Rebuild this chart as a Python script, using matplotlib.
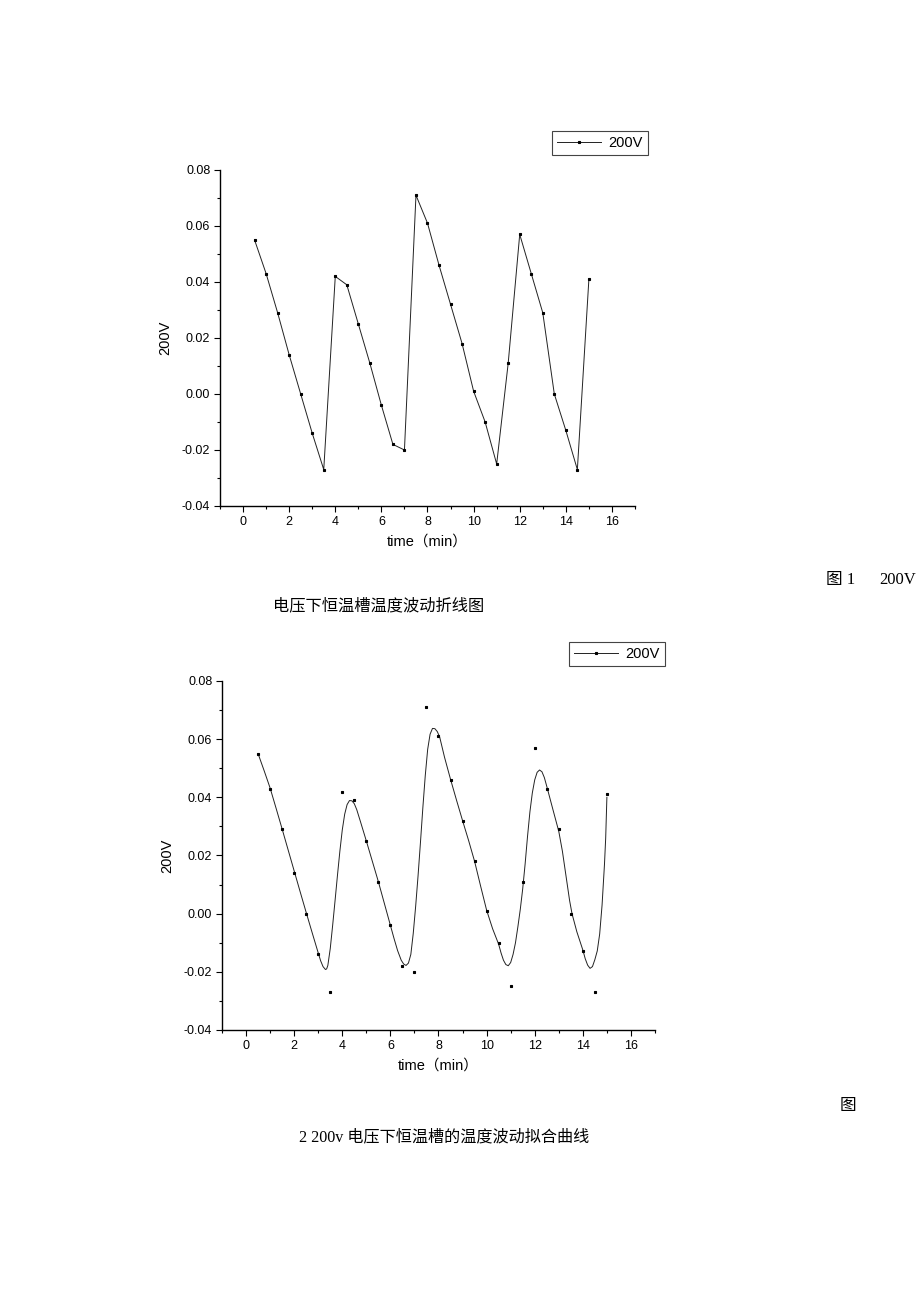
import matplotlib
matplotlib.use("Agg")
import matplotlib.pyplot as plt
from matplotlib.ticker import MultipleLocator, FormatStrFormatter
from matplotlib.lines import Line2D

# measured temperature fluctuation at 200 V
time_min = [0.5, 1.0, 1.5, 2.0, 2.5, 3.0, 3.5, 4.0, 4.5, 5.0,
            5.5, 6.0, 6.5, 7.0, 7.5, 8.0, 8.5, 9.0, 9.5, 10.0,
            10.5, 11.0, 11.5, 12.0, 12.5, 13.0, 13.5, 14.0, 14.5, 15.0]
v200 = [0.055, 0.043, 0.029, 0.014, 0.000, -0.014, -0.027, 0.042, 0.039, 0.025,
        0.011, -0.004, -0.018, -0.020, 0.071, 0.061, 0.046, 0.032, 0.018, 0.001,
        -0.010, -0.025, 0.011, 0.057, 0.043, 0.029, 0.000, -0.013, -0.027, 0.041]

# fitted curve
fit_x = [0.5, 0.75, 1.0, 1.25, 1.5, 1.75, 2.0, 2.25, 2.5, 2.75,
         3.0, 3.1, 3.2, 3.3, 3.35, 3.4, 3.5, 3.6, 3.7, 3.8,
         3.9, 4.0, 4.1, 4.2, 4.3, 4.4, 4.5, 4.6, 4.75, 5.0,
         5.25, 5.5, 5.75, 6.0, 6.15, 6.3, 6.45, 6.55, 6.65, 6.75,
         6.85, 6.95, 7.05, 7.15, 7.25, 7.35, 7.45, 7.55, 7.65, 7.75,
         7.85, 7.95, 8.05, 8.25, 8.5, 8.75, 9.0, 9.25, 9.5, 9.75,
         10.0, 10.25, 10.5, 10.6, 10.7, 10.8, 10.9, 11.0, 11.1, 11.2,
         11.3, 11.4, 11.5, 11.6, 11.7, 11.8, 11.9, 12.0, 12.1, 12.2,
         12.3, 12.4, 12.5, 12.75, 13.0, 13.15, 13.3, 13.45, 13.55, 13.75,
         14.0, 14.1, 14.2, 14.3, 14.4, 14.5, 14.6, 14.7, 14.8, 14.9,
         14.95, 15.0]
fit_y = [0.0550, 0.0492, 0.0432, 0.0362, 0.0291, 0.0219, 0.0147, 0.0075, 0.0004, -0.0066,
         -0.0135, -0.0162, -0.0182, -0.0192, -0.0190, -0.0178, -0.0120, -0.0040, 0.0045, 0.0132,
         0.0215, 0.0288, 0.0342, 0.0375, 0.0389, 0.0388, 0.0378, 0.0358, 0.0318, 0.0250,
         0.0180, 0.0110, 0.0035, -0.0040, -0.0085, -0.0127, -0.0160, -0.0173, -0.0178, -0.0170,
         -0.0140, -0.0068, 0.0025, 0.0130, 0.0245, 0.0365, 0.0475, 0.0565, 0.0617, 0.0637,
         0.0636, 0.0626, 0.0607, 0.0538, 0.0462, 0.0390, 0.0320, 0.0252, 0.0180, 0.0095,
         0.0012, -0.0052, -0.0105, -0.0135, -0.0160, -0.0175, -0.0179, -0.0168, -0.0140, -0.0100,
         -0.0045, 0.0015, 0.0085, 0.0170, 0.0265, 0.0350, 0.0415, 0.0460, 0.0486, 0.0494,
         0.0488, 0.0468, 0.0438, 0.0360, 0.0283, 0.0215, 0.0130, 0.0045, 0.0000, -0.0062,
         -0.0125, -0.0155, -0.0177, -0.0188, -0.0182, -0.0158, -0.0128, -0.0070, 0.0030, 0.0170,
         0.0260, 0.0400]

W, H = 920, 1302
sans = ["Liberation Sans", "Noto Sans CJK SC"]
serif = ["Liberation Serif", "Noto Sans CJK SC"]
MS = 1.8
marker_kw = dict(marker="s", markersize=MS, markerfacecolor="black",
                 markeredgecolor="black", markeredgewidth=0.8)

plt.rcParams["axes.unicode_minus"] = False
fig = plt.figure(figsize=(W / 100, H / 100), dpi=100)


def px(x, y):
    return x / W, 1 - y / H


def style_axes(ax):
    ax.set_xlim(-1, 17)
    ax.set_ylim(-0.04, 0.08)
    for s in ("top", "right"):
        ax.spines[s].set_visible(False)
    for s in ("left", "bottom"):
        ax.spines[s].set_linewidth(1.0)
    ax.xaxis.set_major_locator(MultipleLocator(2))
    ax.xaxis.set_minor_locator(MultipleLocator(1))
    ax.yaxis.set_major_locator(MultipleLocator(0.02))
    ax.yaxis.set_minor_locator(MultipleLocator(0.01))
    ax.yaxis.set_major_formatter(FormatStrFormatter("%.2f"))
    ax.tick_params(which="major", direction="out", length=4, width=0.8, labelsize=9, pad=3)
    ax.tick_params(which="minor", direction="out", length=2.3, width=0.8)
    for lab in ax.get_xticklabels() + ax.get_yticklabels():
        lab.set_family(sans)
    ax.set_xlabel("time（min）", family=sans, fontsize=10.5, labelpad=5)
    ax.set_ylabel("200V", family=sans, fontsize=10.5, labelpad=7)


def add_legend(ax, right, top):
    h = Line2D([], [], color="#222222", lw=0.7, **marker_kw)
    leg = ax.legend([h], ["200V"], loc="upper right", bbox_to_anchor=px(right, top),
                    bbox_transform=fig.transFigure, borderaxespad=0, fancybox=False,
                    framealpha=1, edgecolor="#444444", handlelength=3.0,
                    handletextpad=0.5, borderpad=0.35, numpoints=1,
                    prop={"family": sans, "size": 10.5})
    leg.get_frame().set_linewidth(0.8)


# figure 1: broken line
ax1 = fig.add_axes([220 / W, 1 - 506 / H, (635 - 220) / W, (506 - 170) / H])
ax1.plot(time_min, v200, color="#222222", lw=0.7, **marker_kw)
style_axes(ax1)
add_legend(ax1, 648, 131)

# figure 2: scatter with fitted curve
ax2 = fig.add_axes([222 / W, 1 - 1030 / H, (655 - 222) / W, (1030 - 681) / H])
ax2.plot(fit_x, fit_y, color="#222222", lw=0.7)
ax2.plot(time_min, v200, ls="none", **marker_kw)
style_axes(ax2)
add_legend(ax2, 665, 642)

# captions
fig.text(*px(826, 580), "图 1", family=serif, fontsize=12, va="center", ha="left")
fig.text(*px(879, 580), "200V", family=serif, fontsize=12, va="center", ha="left")
fig.text(*px(273, 606), "电压下恒温槽温度波动折线图", family=serif, fontsize=11.7,
         va="center", ha="left")
fig.text(*px(840, 1106), "图", family=serif, fontsize=12, va="center", ha="left")
fig.text(*px(299, 1137), "2 200v 电压下恒温槽的温度波动拟合曲线", family=serif,
         fontsize=11.6, va="center", ha="left")

fig.savefig("out.png", dpi=100, facecolor="white")
